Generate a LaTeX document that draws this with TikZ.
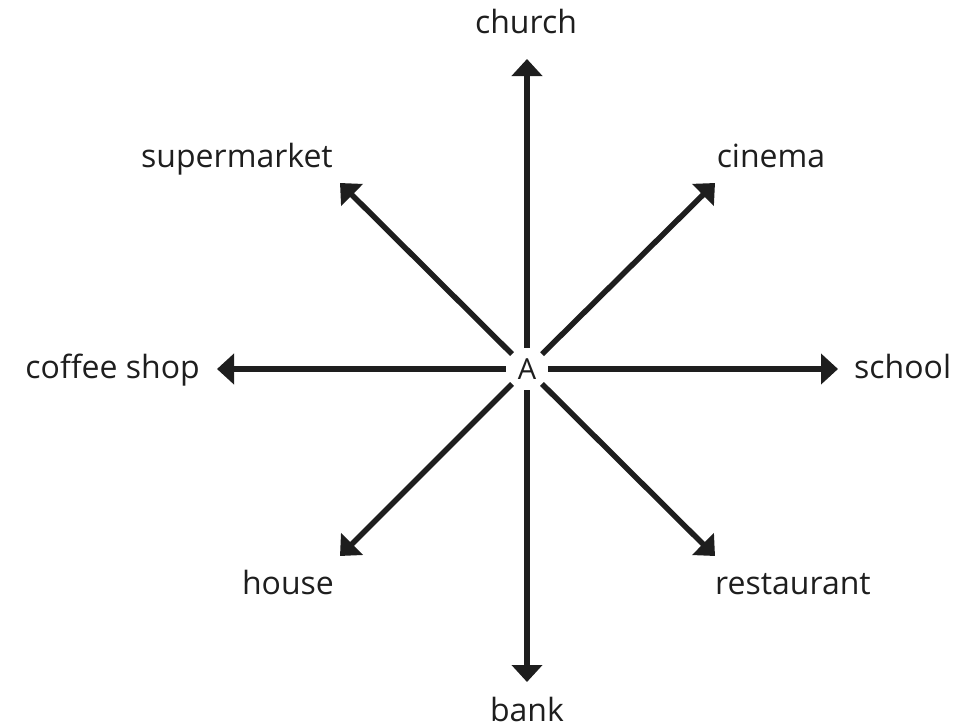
\documentclass[tikz,border=0pt]{standalone}
\usepackage{fontspec}
\setmainfont{Open Sans}
\usetikzlibrary{arrows.meta}
\definecolor{ink}{HTML}{1E1E1E}
\tikzset{
  arr/.style={line width=5.5pt, draw=ink, -{Triangle[length=17pt,width=30pt]}},
  lbl/.style={font=\fontsize{32}{38}\selectfont, text=ink, inner sep=0pt, anchor=base},
}
\begin{document}
\begin{tikzpicture}[x=1pt,y=-1pt]
\useasboundingbox (0,0) rectangle (967,728);
\node[circle, inner sep=0pt, minimum size=42pt, font=\fontsize{29}{34}\selectfont, text=ink] (A) at (527,369) {A};
\coordinate (tN) at (527,59);
\coordinate (tS) at (527,682);
\coordinate (tW) at (217,369);
\coordinate (tE) at (838,369);
\coordinate (tNW) at (340,183);
\coordinate (tNE) at (715,183);
\coordinate (tSW) at (340,556);
\coordinate (tSE) at (715,556);
\draw[arr] (A) -- (tN);
\draw[arr] (A) -- (tS);
\draw[arr] (A) -- (tW);
\draw[arr] (A) -- (tE);
\draw[arr] (A) -- (tNW);
\draw[arr] (A) -- (tNE);
\draw[arr] (A) -- (tSW);
\draw[arr] (A) -- (tSE);
\node[lbl] (church) at (526,33) {church};
\node[lbl] (supermarket) at (237,167) {supermarket};
\node[lbl] (cinema) at (771,167) {cinema};
\node[lbl, anchor=base east] (coffee) at (200,378) {coffee shop};
\node[lbl, anchor=base west] (school) at (854,378) {school};
\node[lbl] (house) at (288,594) {house};
\node[lbl] (restaurant) at (793,594) {restaurant};
\node[lbl] (bank) at (527,721) {bank};
\end{tikzpicture}
\end{document}
